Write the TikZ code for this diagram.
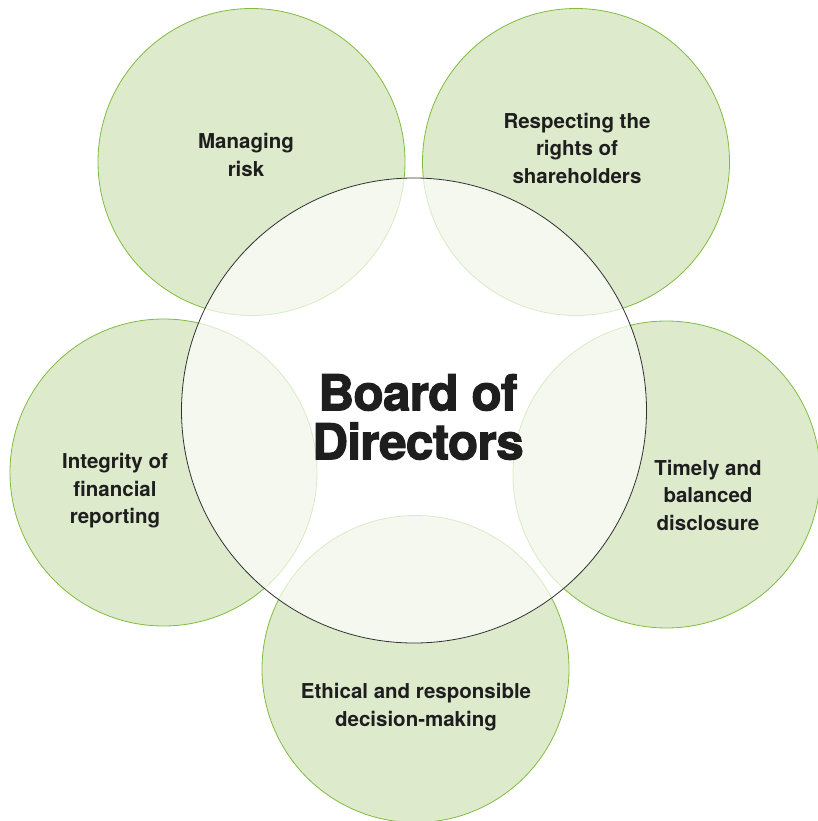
\documentclass[tikz,border=0pt]{standalone}
\usepackage{fontspec}
\setmainfont{TeX Gyre Heros}
\newfontfamily\titlefont{TeX Gyre Heros}[BoldFeatures={FakeBold=2.2}, LetterSpace=-1.5]
\definecolor{gfill}{RGB}{221,234,204}
\definecolor{gline}{RGB}{128,188,62}
\definecolor{txt}{RGB}{30,30,30}
\definecolor{cline}{RGB}{50,50,50}
\tikzset{
  petal/.style={circle, fill=gfill, draw=gline, line width=0.8pt, minimum size=307pt, inner sep=0pt},
  hub/.style={circle, fill=white, fill opacity=0.7, draw=cline, draw opacity=1, line width=0.8pt, minimum size=465pt, inner sep=0pt},
  lbl/.style={align=center, text=txt, font=\bfseries\fontsize{20.5}{27.5}\selectfont, inner sep=0pt},
  title/.style={align=center, text=txt, font=\titlefont\bfseries\fontsize{49.5}{49}\selectfont, inner sep=0pt}
}
\begin{document}
\begin{tikzpicture}[x=1pt,y=-1pt]
\useasboundingbox (0,0) rectangle (818,821);
\node[petal] (risk) at (251.5,162) {};
\node[petal] (rights) at (576,162) {};
\node[petal] (integ) at (163.5,472.5) {};
\node[petal] (timely) at (666.5,474.5) {};
\node[petal] (ethic) at (415.5,669) {};
\node[hub] (board) at (414,410.5) {};
\node[lbl] (trisk) at (246,155) {Managing\\risk};
\node[lbl] (trights) at (577,148) {Respecting the\\rights of\\shareholders};
\node[lbl] (tinteg) at (115,491) {Integrity of\\financial\\reporting};
\node[lbl] (ttimely) at (708,495) {Timely and\\balanced\\disclosure};
\node[lbl] (tethic) at (416,707) {Ethical and responsible\\decision-making};
\node[title] (tboard) at (418,417) {Board of\\Directors};
\end{tikzpicture}
\end{document}
